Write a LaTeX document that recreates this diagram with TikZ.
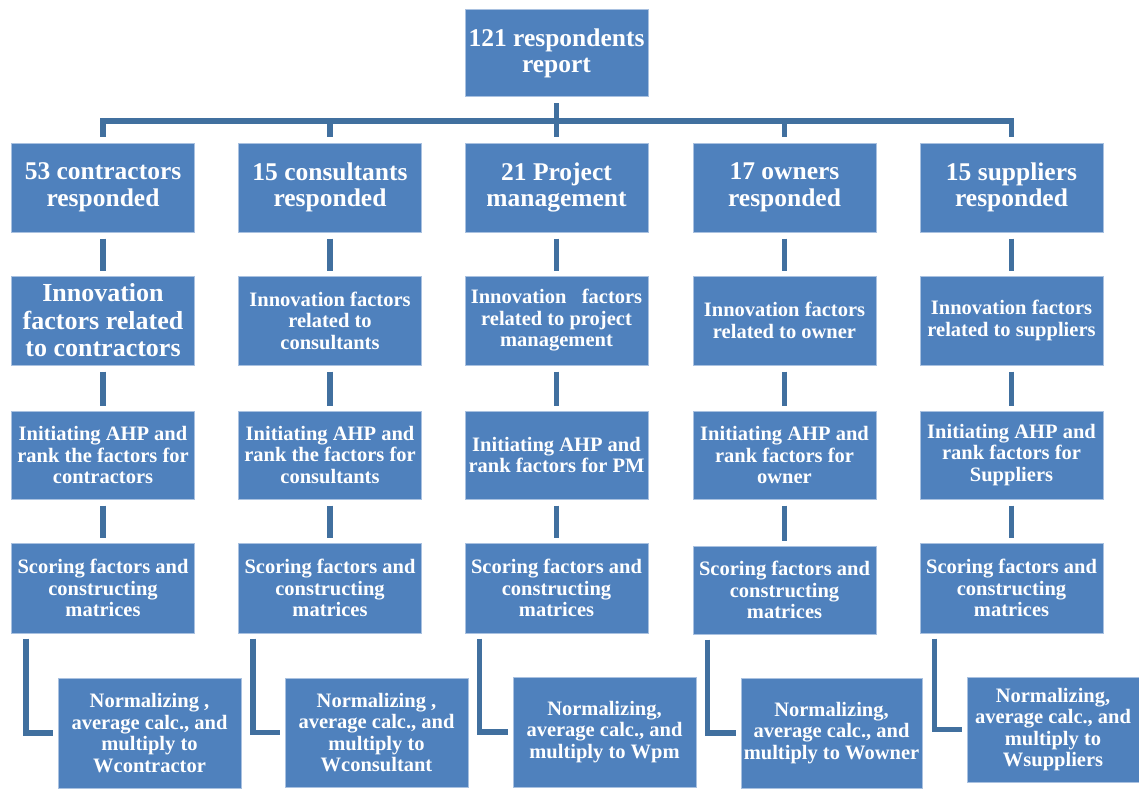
\documentclass[tikz,border=0pt]{standalone}
\usepackage{fontspec}
\setmainfont{Liberation Serif}
\definecolor{boxblue}{HTML}{4F81BD}
\definecolor{boxedge}{HTML}{A9C1E0}
\definecolor{linkblue}{HTML}{41709F}
\begin{document}
\begin{tikzpicture}[x=1pt,y=-1pt,
  box/.style={draw=boxedge, line width=1pt, fill=boxblue, text=white,
    font=\bfseries\fontsize{20.5}{21.5}\selectfont, align=center,
    inner sep=0pt, minimum width=183pt, minimum height=89pt},
  big/.style={font=\bfseries\fontsize{25.5}{26.5}\selectfont},
  bigger/.style={font=\bfseries\fontsize{26}{27.5}\selectfont},
  conn/.style={draw=linkblue, line width=5.5pt}]
\useasboundingbox[fill=white] (0,0) rectangle (1139,789);

% root
\node[box, big, minimum height=87pt] (top) at (556.5,53.5) {121 respondents\\report};

% row 1: respondent groups
\node[box, big] (r1c1) at (103,187.5)   {53 contractors\\responded};
\node[box, big] (r1c2) at (330,187.5)   {15 consultants\\responded};
\node[box, big] (r1c3) at (556.5,187.5) {21 Project\\management};
\node[box, big] (r1c4) at (784.5,187.5) {17 owners\\responded};
\node[box, big] (r1c5) at (1011.5,187.5){15 suppliers\\responded};

% row 2: innovation factors
\node[box, bigger] (r2c1) at (103,320.5) {Innovation\\factors related\\to contractors};
\node[box] (r2c2) at (330,320.5)   {Innovation factors\\related to\\consultants};
\node[box] (r2c3) at (556.5,320.5) {Innovation~~~factors\\related to project\\management};
\node[box] (r2c4) at (784.5,320.5) {Innovation factors\\related to owner};
\node[box] (r2c5) at (1011.5,320.5){Innovation factors\\related to suppliers};

% row 3: AHP ranking
\node[box, minimum height=88pt] (r3c1) at (103,455)   {Initiating AHP and\\rank the factors for\\contractors};
\node[box, minimum height=88pt] (r3c2) at (330,455)   {Initiating AHP and\\rank the factors for\\consultants};
\node[box, minimum height=88pt] (r3c3) at (556.5,455) {Initiating AHP and\\rank factors for PM};
\node[box, minimum height=88pt] (r3c4) at (784.5,455) {Initiating AHP and\\rank factors for\\owner};
\node[box, minimum height=88pt] (r3c5) at (1011.5,455){Initiating AHP and\\rank factors for\\Suppliers};

% row 4: scoring
\node[box, minimum height=90pt] (r4c1) at (103,588)   {Scoring factors and\\constructing\\matrices};
\node[box, minimum height=90pt] (r4c2) at (330,588)   {Scoring factors and\\constructing\\matrices};
\node[box, minimum height=90pt] (r4c3) at (556.5,588) {Scoring factors and\\constructing\\matrices};
\node[box, minimum height=88pt] (r4c4) at (784.5,590) {Scoring factors and\\constructing\\matrices};
\node[box, minimum height=90pt] (r4c5) at (1011.5,588){Scoring factors and\\constructing\\matrices};

% row 5: normalising and weighting
\node[box, minimum height=110pt] (r5c1) at (149.5,733) {Normalizing ,\\average calc., and\\multiply to\\Wcontractor};
\node[box, minimum height=109pt] (r5c2) at (376.5,732.5) {Normalizing ,\\average calc., and\\multiply to\\Wconsultant};
\node[box, minimum height=110pt] (r5c3) at (604.5,732) {Normalizing,\\average calc., and\\multiply to Wpm};
\node[box, minimum height=110pt, minimum width=181pt] (r5c4) at (831.5,733) {Normalizing,\\average calc., and\\multiply to Wowner};
\node[box, minimum height=105pt, minimum width=172pt] (r5c5) at (1053,729.5) {Normalizing,\\average calc., and\\multiply to\\Wsuppliers};

% bus from the root to the five groups
\coordinate (bus) at (556.5,121);
\draw[conn] ([yshift=-6pt]top.south) -- (top.south |- bus);
\draw[conn] ([yshift=6pt]r1c1.north) -- (r1c1.north |- bus) -- (r1c5.north |- bus) -- ([yshift=6pt]r1c5.north);
\foreach \c in {2,3,4}
  \draw[conn] (r1c\c.north |- bus) -- ([yshift=6pt]r1c\c.north);

% vertical links within each column and elbow to the last step
\foreach \c in {1,...,5} {
  \draw[conn] ([yshift=-6pt]r1c\c.south) -- ([yshift=5pt]r2c\c.north);
  \draw[conn] ([yshift=-6pt]r2c\c.south) -- ([yshift=5pt]r3c\c.north);
  \draw[conn] ([yshift=-6pt]r3c\c.south) -- ([yshift=5pt]r4c\c.north);
  \draw[conn] ([xshift=15pt,yshift=-5pt]r4c\c.south west) |- ([xshift=-5pt]r5c\c.west);
}
\end{tikzpicture}
\end{document}
